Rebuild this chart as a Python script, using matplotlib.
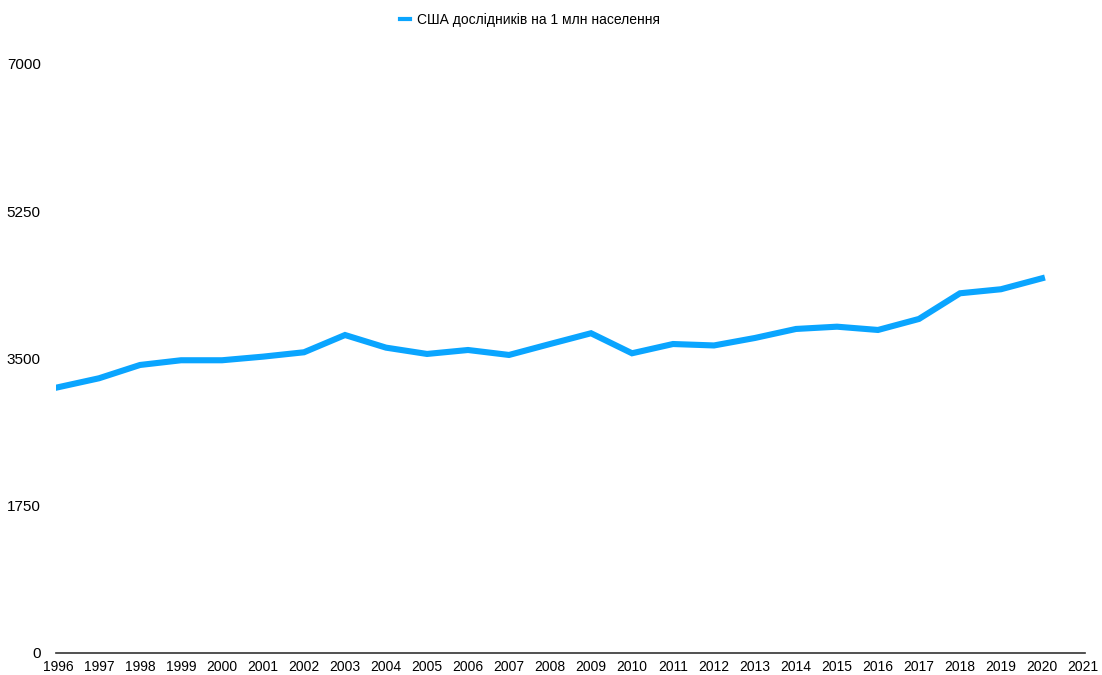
import matplotlib.pyplot as plt

years = list(range(1996, 2021))
researchers = [3158, 3265, 3423, 3479, 3479, 3522, 3574, 3779, 3629, 3554,
               3601, 3542, 3672, 3800, 3562, 3672, 3655, 3744, 3851, 3878,
               3839, 3970, 4275, 4323, 4453]
tick_years = list(range(1996, 2022))
y_ticks = [0, 1750, 3500, 5250, 7000]
label = 'США дослідників на 1 млн населення'


def main():
    plt.rcParams['font.family'] = ['Liberation Sans', 'DejaVu Sans']

    fig = plt.figure(figsize=(11.02, 6.75), dpi=100)
    ax = fig.add_axes([0.0508, 0.0326, 0.9338, 0.8726])

    ax.plot(years, researchers, color='#0aa5ff', linewidth=4.4,
            solid_joinstyle='miter', label=label)

    ax.set_xlim(1995.95, 2021.05)
    ax.set_ylim(0, 7000)
    ax.set_xticks(tick_years)
    ax.set_xticklabels([str(y) for y in tick_years], fontsize=10)
    ax.set_yticks(y_ticks)
    ax.set_yticklabels([str(v) for v in y_ticks], fontsize=11)
    ax.tick_params(axis='both', length=0, colors='black')
    ax.tick_params(axis='y', pad=11)
    ax.tick_params(axis='x', pad=5)

    for side in ['top', 'right', 'left']:
        ax.spines[side].set_visible(False)
    ax.spines['bottom'].set_color('#333333')
    ax.spines['bottom'].set_linewidth(1.2)

    leg = ax.legend(loc='center', bbox_to_anchor=(0.481, 0.970),
                    bbox_transform=fig.transFigure, frameon=False, fontsize=10,
                    handlelength=0.7, handletextpad=0.5)
    for line in leg.get_lines():
        line.set_linewidth(3)

    fig.savefig('out.png', dpi=100)
    plt.close(fig)


if __name__ == "__main__":
    main()
